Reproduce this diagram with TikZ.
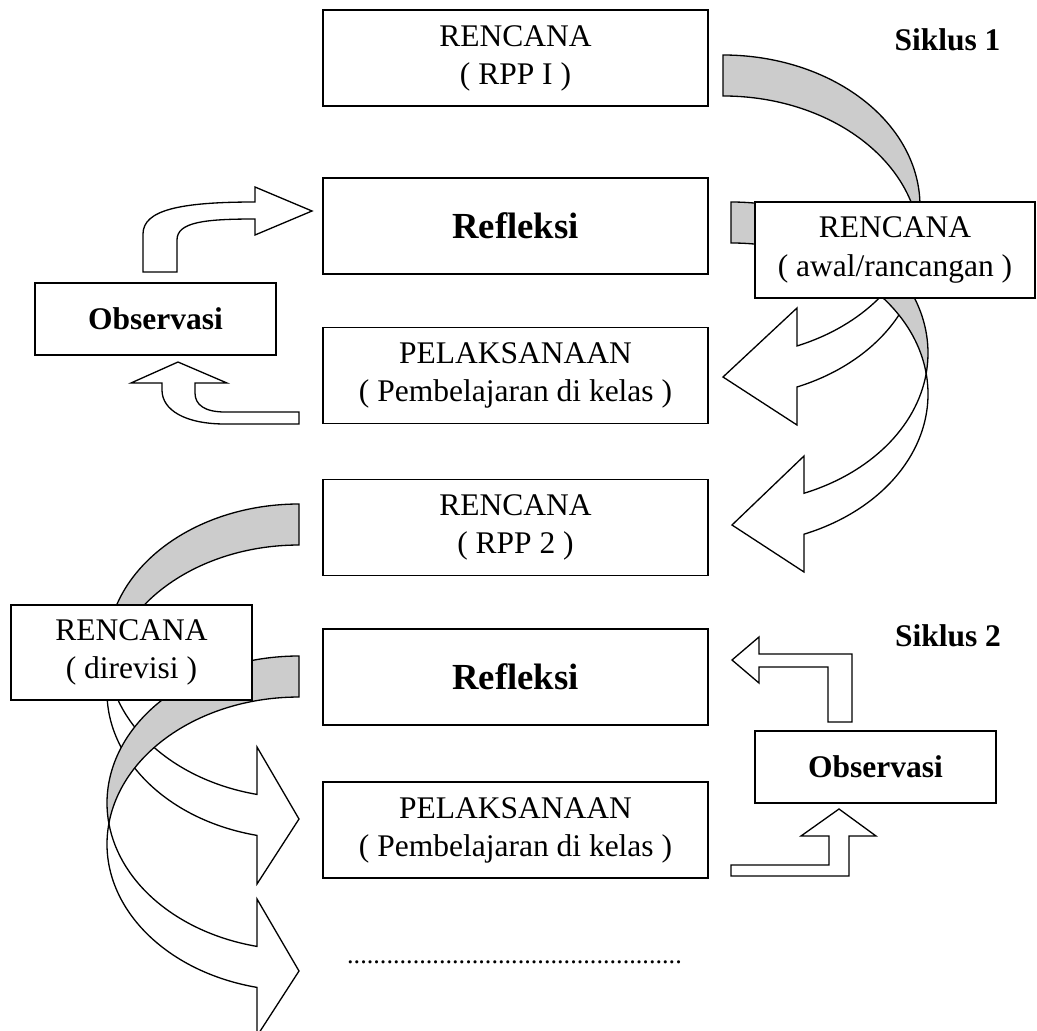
\documentclass[tikz,border=0pt]{standalone}
\usepackage{fontspec}
\setmainfont{Liberation Serif}
\definecolor{bandGray}{HTML}{CCCCCC}
\newlength{\px}
\setlength{\px}{0.381pt}
\tikzset{
  stage/.style={rectangle, draw=black, fill=white, line width=0.75pt,
                align=center, inner sep=0pt, font=\fontsize{12}{14.5}\selectfont,
                minimum width=385\px, minimum height=96\px},
  stageBold/.style={stage, font=\bfseries\fontsize{14}{17}\selectfont},
  obsbox/.style={stage, font=\bfseries\fontsize{12}{14.5}\selectfont,
                 minimum width=241\px, minimum height=72\px},
  cycletitle/.style={font=\bfseries\fontsize{12}{14.5}\selectfont, inner sep=0pt},
  bandBack/.style={draw=black, fill=bandGray, line width=0.5pt},
  bandFront/.style={draw=black, fill=white, line width=0.5pt},
  blockArrow/.style={draw=black, fill=white, line width=0.5pt},
  ringL/.style={x radius=197, y radius=151},
  ringR/.style={x radius=192, y radius=147},
}

\begin{document}
\begin{tikzpicture}[x=0.381pt, y=-0.381pt]
  \useasboundingbox (0,0) rectangle (1037,1031);
  \clip (0,0) rectangle (1037,1031);

  % Siklus 1: curved arrows on the right
  \path[bandBack] (723,55) arc[start angle=-90, end angle=7.8, ringL]
    arc[start angle=-7.8, end angle=-90, ringL] -- cycle;
  \path[bandFront] (918.2,226.5) arc[start angle=7.8, end angle=67.94, ringL]
    -- (797,308) -- (723,377) -- (797,425) -- (797,387)
    arc[start angle=67.94, end angle=-7.8, ringL] -- cycle;
  \path[bandBack] (731,202) arc[start angle=-90, end angle=7.8, ringL]
    arc[start angle=-7.8, end angle=-90, ringL] -- cycle;
  \path[bandFront] (926.2,373.5) arc[start angle=7.8, end angle=68.25, ringL]
    -- (804,456) -- (732,525) -- (804,572) -- (804,534.2)
    arc[start angle=68.25, end angle=-7.8, ringL] -- cycle;

  % Siklus 2: curved arrows on the left
  \path[bandBack] (299,504) arc[start angle=270, end angle=171.98, ringR]
    arc[start angle=188.02, end angle=270, ringR] -- cycle;
  \path[bandFront] (108.9,671.5) arc[start angle=171.98, end angle=102.64, ringR]
    -- (257,747) -- (299,819) -- (257,884) -- (257,835.4)
    arc[start angle=102.64, end angle=188.02, ringR] -- cycle;
  \path[bandBack] (299,656) arc[start angle=270, end angle=171.98, ringR]
    arc[start angle=188.02, end angle=270, ringR] -- cycle;
  \path[bandFront] (108.9,823.5) arc[start angle=171.98, end angle=102.64, ringR]
    -- (257,899) -- (299,971) -- (257,1036) -- (257,987.4)
    arc[start angle=102.64, end angle=188.02, ringR] -- cycle;

  % stages
  \node[stage] (rpp1) at (515.5,58) {RENCANA\\( RPP I )};
  \node[stageBold] (ref1) at (515.5,226) {Refleksi};
  \node[stage] (pel1) at (515.5,375.5) {PELAKSANAAN\\( Pembelajaran di kelas )};
  \node[stage] (rpp2) at (515.5,527.5) {RENCANA\\( RPP 2 )};
  \node[stageBold] (ref2) at (515.5,677) {Refleksi};
  \node[stage] (pel2) at (515.5,830) {PELAKSANAAN\\( Pembelajaran di kelas )};
  \node[stage, minimum width=280\px] (awal) at (895,250) {RENCANA\\( awal/rancangan )};
  \node[stage, minimum width=241\px, minimum height=95\px] (revisi) at (131.5,652.5)
    {RENCANA\\( direvisi )};
  \node[obsbox] (obs1) at (155.5,319) {Observasi};
  \node[obsbox] (obs2) at (875.5,767) {Observasi};
  \node[cycletitle, anchor=base] (sik1) at (947.5,50) {Siklus 1};
  \node[cycletitle, anchor=base] (sik2) at (948,646) {Siklus 2};
  \node[font=\fontsize{10}{12}\selectfont, inner sep=0pt, anchor=base] (more) at (514.5,963)
    {...................................................};

  % observation arrows, siklus 1
  \path[blockArrow] (143,272) -- (143,234) .. controls (143,210) and (180,202) .. (255,202)
    -- (255,187) -- (312,211) -- (255,235) -- (255,219)
    .. controls (205,219) and (177,222) .. (177,240) -- (177,272) -- cycle;
  \path[blockArrow] (178,362) -- (227,383) -- (195,383) -- (195,393)
    .. controls (195,405) and (205,412) .. (225,412) -- (299,412) -- (299,424) -- (225,424)
    .. controls (185,424) and (162,410) .. (162,390) -- (162,383) -- (131,383) -- cycle;

  % observation arrows, siklus 2
  \path[blockArrow] (732,660) -- (759,637) -- (759,654) -- (852,654) -- (852,722)
    -- (828,722) -- (828,667) -- (759,667) -- (759,683) -- cycle;
  \path[blockArrow] (839,809) -- (876,836) -- (849,836) -- (849,876) -- (731,876)
    -- (731,865) -- (829,865) -- (829,836) -- (801,836) -- cycle;
\end{tikzpicture}
\end{document}
